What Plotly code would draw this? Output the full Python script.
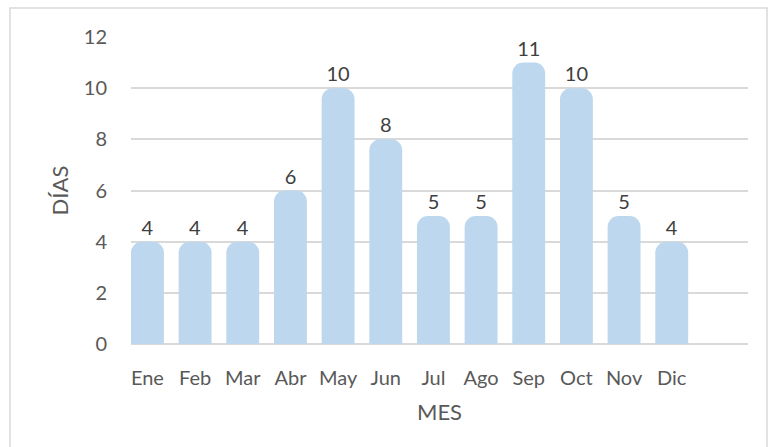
import plotly.graph_objects as go

meses = ["Ene", "Feb", "Mar", "Abr", "May", "Jun", "Jul", "Ago", "Sep", "Oct", "Nov", "Dic"]
dias = [4, 4, 4, 6, 10, 8, 5, 5, 11, 10, 5, 4]
y_ticks = [0, 2, 4, 6, 8, 10, 12]

W, H = 768, 447
L, R, T, B = 131, 20, 37, 103
pw, ph = W - L - R, H - T - B

fig = go.Figure(
    go.Bar(
        x=list(range(len(meses))),
        y=dias,
        width=0.69,
        marker=dict(color="#BDD7EE", cornerradius=11, line=dict(width=0)),
        text=dias,
        textposition="outside",
        textfont=dict(size=20, color="#404040"),
        cliponaxis=False,
        hoverinfo="skip",
    )
)

fig.update_layout(
    width=W,
    height=H,
    margin=dict(l=L, r=R, t=T, b=B, autoexpand=False),
    plot_bgcolor="white",
    paper_bgcolor="white",
    font=dict(family="Lato, Open Sans, sans-serif", color="#595959", size=20),
    showlegend=False,
    xaxis=dict(
        range=[-0.345, 12.6],
        tickvals=list(range(len(meses))),
        ticktext=meses,
        showgrid=False,
        zeroline=False,
        ticks="",
        ticklabelstandoff=20,
        tickfont=dict(size=20, color="#595959"),
        title=dict(text="MES", font=dict(size=22, color="#595959"), standoff=16),
    ),
    yaxis=dict(
        range=[0, 12],
        tickvals=y_ticks,
        showgrid=True,
        gridcolor="#D9D9D9",
        gridwidth=1.5,
        zeroline=True,
        zerolinecolor="#D9D9D9",
        zerolinewidth=1.5,
        ticks="",
        ticklabelstandoff=23,
        tickfont=dict(size=20, color="#595959"),
        title=dict(text="DÍAS", font=dict(size=22, color="#595959"), standoff=9),
    ),
    shapes=[
        dict(
            type="rect",
            xref="paper",
            yref="paper",
            x0=(10 - L) / pw,
            x1=(767 - L) / pw,
            y0=(H - B - 460) / ph,
            y1=(H - B - 8) / ph,
            line=dict(color="#D9D9D9", width=1.5),
            layer="below",
        )
    ],
)

fig.write_html(
    "out.html",
    config={"displayModeBar": False},
    post_script="document.body.style.margin='0';",
)
